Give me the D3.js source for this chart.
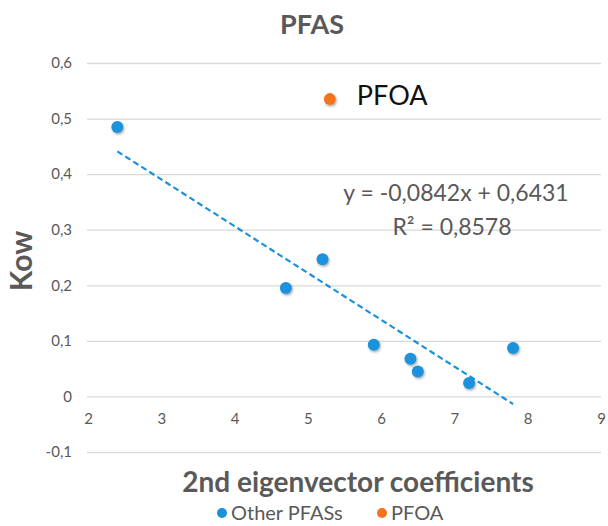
<!DOCTYPE html>
<html>
<head>
<meta charset="utf-8">
<script src="https://cdn.jsdelivr.net/npm/d3@7"></script>
<style>
  body { margin: 0; background: #fff; }
  svg text { font-family: Lato, "Open Sans", sans-serif; }
</style>
</head>
<body>
<svg id="chart" width="608" height="526"></svg>
<script>
// data
const otherX = [2.4, 4.7, 5.2, 5.9, 6.4, 6.5, 7.2, 7.8];
const otherY = [0.485, 0.195, 0.247, 0.093, 0.068, 0.045, 0.024, 0.087];
const pfoaX = [5.3];
const pfoaY = [0.535];
const xTicks = [2, 3, 4, 5, 6, 7, 8, 9];
const yTicks = [-0.1, 0, 0.1, 0.2, 0.3, 0.4, 0.5, 0.6];
const trendSlope = -0.0842;
const trendIntercept = 0.6431;
const trendRange = [2.4, 7.8];
const legendNames = ["Other PFASs", "PFOA"];
const colors = ["#1b91dc", "#f5731f"];

const svg = d3.select("#chart");
const margin = {left: 88, right: 7, top: 63, bottom: 74};
const width = 608, height = 526;

const x = d3.scaleLinear().domain([2, 9]).range([margin.left, width - margin.right]);
const y = d3.scaleLinear().domain([-0.1, 0.6]).range([height - margin.bottom, margin.top]);

// excel style: decimal comma, plain hyphen for minus
const comma = d => String(d).replace(".", ",");

const defs = svg.append("defs");
const shadow = defs.append("filter").attr("id", "shadow")
  .attr("x", "-50%").attr("y", "-50%").attr("width", "200%").attr("height", "200%");
shadow.append("feDropShadow")
  .attr("dx", 1).attr("dy", 1.5).attr("stdDeviation", 1.2)
  .attr("flood-color", "#000").attr("flood-opacity", 0.35);

// gridlines + y labels
svg.append("g")
  .attr("transform", `translate(${margin.left - 1},0)`)
  .call(d3.axisRight(y).tickValues(yTicks).tickSize(width - margin.left - margin.right + 1).tickFormat(comma))
  .call(g => g.select(".domain").remove())
  .call(g => g.selectAll(".tick line").attr("stroke", "#d9d9d9").attr("stroke-width", 1.3))
  .call(g => g.selectAll(".tick text")
    .attr("x", -15).attr("text-anchor", "end")
    .attr("fill", "#595959").attr("font-size", 15));

// x labels under the zero line
svg.append("g")
  .attr("transform", `translate(0,${y(0)})`)
  .call(d3.axisBottom(x).tickValues(xTicks).tickSize(0).tickFormat(comma))
  .call(g => g.select(".domain").remove())
  .call(g => g.selectAll(".tick text")
    .attr("y", 17).attr("fill", "#595959").attr("font-size", 15));

// trendline
const trendLine = d3.line().x(d => x(d)).y(d => y(trendSlope * d + trendIntercept));
svg.append("path")
  .datum(trendRange)
  .attr("d", trendLine)
  .attr("fill", "none")
  .attr("stroke", colors[0])
  .attr("stroke-width", 2.2)
  .attr("stroke-dasharray", "6,3.5");

// points
svg.append("g").selectAll("circle")
  .data(otherX.map((d, i) => [d, otherY[i]]))
  .join("circle")
  .attr("cx", d => x(d[0]))
  .attr("cy", d => y(d[1]))
  .attr("r", 6)
  .attr("fill", colors[0])
  .attr("filter", "url(#shadow)");

svg.append("g").selectAll("circle")
  .data(pfoaX.map((d, i) => [d, pfoaY[i]]))
  .join("circle")
  .attr("cx", d => x(d[0]))
  .attr("cy", d => y(d[1]))
  .attr("r", 6)
  .attr("fill", colors[1])
  .attr("filter", "url(#shadow)");

svg.append("text")
  .attr("x", x(pfoaX[0]) + 27).attr("y", y(pfoaY[0]) + 6)
  .attr("font-size", 27).attr("fill", "#111")
  .text("PFOA");

// equation
svg.append("text")
  .attr("x", 456).attr("y", 201).attr("text-anchor", "middle")
  .attr("font-size", 23).attr("fill", "#595959")
  .text(`y = ${comma(trendSlope)}x + ${comma(trendIntercept)}`);
svg.append("text")
  .attr("x", 452).attr("y", 235).attr("text-anchor", "middle")
  .attr("font-size", 23).attr("fill", "#595959")
  .text("R² = 0,8578");

// titles
svg.append("text")
  .attr("x", 312).attr("y", 34).attr("text-anchor", "middle")
  .attr("font-size", 27).attr("font-weight", "bold").attr("fill", "#595959")
  .text("PFAS");

svg.append("text")
  .attr("transform", `translate(32,261) rotate(-90)`)
  .attr("text-anchor", "middle")
  .attr("font-size", 30).attr("font-weight", "bold").attr("fill", "#595959")
  .text("Kow");

svg.append("text")
  .attr("x", 358).attr("y", 492).attr("text-anchor", "middle")
  .attr("font-size", 28).attr("font-weight", "bold").attr("fill", "#595959")
  .text("2nd eigenvector coefficients");

// legend
const legend = svg.append("g").attr("transform", "translate(222,513)");
const legendX = [0, 160];
legendNames.forEach((name, i) => {
  legend.append("circle").attr("cx", legendX[i]).attr("cy", 0).attr("r", 5).attr("fill", colors[i]);
  legend.append("text").attr("x", legendX[i] + 9).attr("y", 7)
    .attr("font-size", 20).attr("fill", "#595959").text(name);
});
</script>
</body>
</html>
